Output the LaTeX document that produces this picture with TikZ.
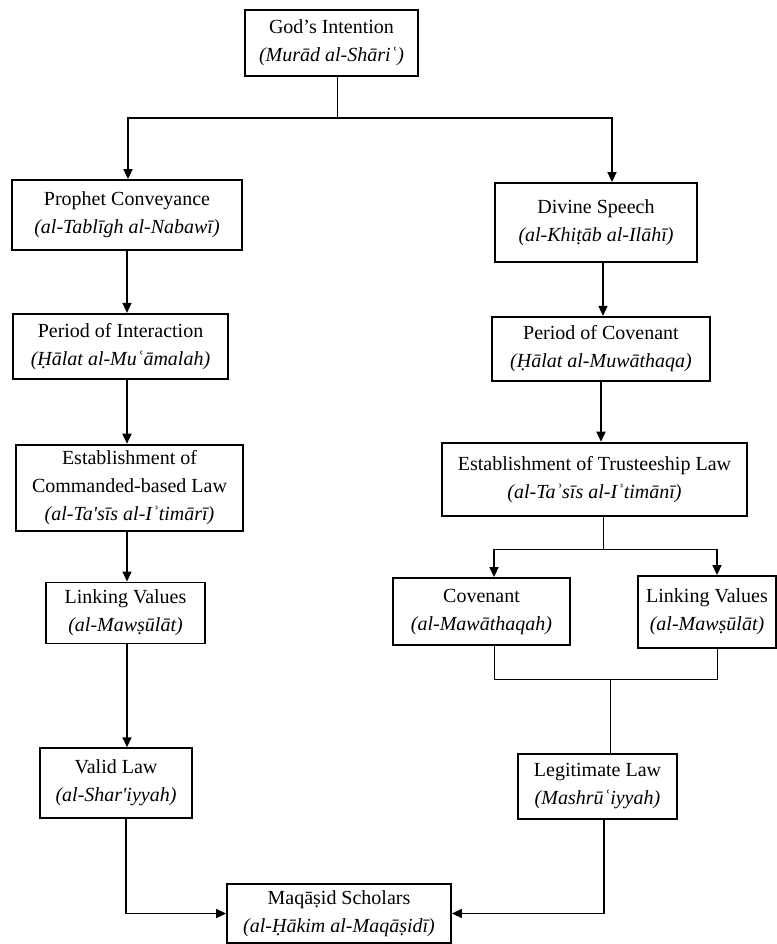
\documentclass[tikz,border=0pt]{standalone}
\usepackage{fontspec}
\setmainfont{Liberation Serif}[Ligatures=TeXOff]
\usetikzlibrary{arrows.meta, positioning}

\begin{document}
\begin{tikzpicture}[
  x=1pt, y=1pt,
  node distance=30pt and 20pt,
  every node/.style={font=\fontsize{10}{14}\selectfont},
  box/.style={
    draw, line width=0.9pt, align=center, inner sep=2pt
  },
  arrow/.style={-{Triangle[length=5pt, width=4.5pt]}, line width=0.8pt},
  link/.style={line width=0.8pt},
  thinlink/.style={line width=0.5pt}
]
  \useasboundingbox (0,0) rectangle (388.5,-472);

  % Top node
  \node[box, minimum width=86.5pt, minimum height=33pt] (god) at (165.75,-21.5)
    {God’s Intention\\ \textit{(Murād al-Shāriʿ)}};

  % Left column
  \node[box, minimum width=115pt, minimum height=35pt] (prophet) at (63.5,-107.5)
    {Prophet Conveyance\\ \textit{(al-Tablīgh al-Nabawī)}};
  \node[box, below=31pt of prophet, xshift=-3.25pt, minimum width=107.5pt, minimum height=32.5pt] (interact)
    {Period of Interaction\\ \textit{(Ḥālat al-Muʿāmalah)}};
  \node[box, below=32pt of interact, xshift=4.5pt, minimum width=113.5pt, minimum height=43pt] (commanded)
    {Establishment of\\ Commanded-based Law\\ \textit{(al-Ta's\={\i}s al-Iʾtimārī)}};
  \node[box, below=25pt of commanded, xshift=-2pt, minimum width=79.5pt, minimum height=30.5pt] (linkleft)
    {Linking Values\\ \textit{(al-Mawṣūlāt)}};
  \node[box, below=51.5pt of linkleft, xshift=-4.75pt, minimum width=76pt, minimum height=35pt] (valid)
    {Valid Law\\ \textit{(al-Shar'iyyah)}};

  % Right column
  \node[box, minimum width=101pt, minimum height=39.5pt] (divine) at (298,-111.25)
    {Divine Speech\\ \textit{(al-Khiṭāb al-Ilāhī)}};
  \node[box, below=26.5pt of divine, xshift=2.5pt, minimum width=109pt, minimum height=32pt] (covperiod)
    {Period of Covenant\\ \textit{(Ḥālat al-Muwāthaqa)}};
  \node[box, below=30pt of covperiod, xshift=-3.25pt, minimum width=152.5pt, minimum height=36.5pt] (trustee)
    {Establishment of Trusteeship Law\\ \textit{(al-Taʾs\={\i}s al-Iʾtimānī)}};
  \node[box, minimum width=88.5pt, minimum height=33.5pt] (covenant) at (240.75,-305.75)
    {Covenant\\ \textit{(al-Mawāthaqah)}};
  \node[box, minimum width=69pt, minimum height=36pt] (linkright) at (353.5,-306)
    {Linking Values\\ \textit{(al-Mawṣūlāt)}};
  \node[box, minimum width=79.5pt, minimum height=32.5pt] (legit) at (298.75,-393.25)
    {Legitimate Law\\ \textit{(Mashrūʿiyyah)}};

  % Bottom node
  \node[box, minimum width=112pt, minimum height=29.5pt] (scholars) at (169.5,-456.75)
    {Maqāṣid Scholars\\ \textit{(al-Ḥākim al-Maqāṣidī)}};

  % Split from the top
  \draw[link] ([xshift=3pt]god.south) -- ++(0,-20.5) coordinate (topsplit);
  \draw[arrow] (topsplit) -| ([xshift=0.5pt]prophet.north);
  \draw[arrow] (topsplit) -| ([xshift=8pt]divine.north);

  % Left chain
  \draw[arrow] (prophet.south) -- (prophet.south |- interact.north);
  \draw[arrow] (interact.south -| prophet.south) -- (prophet.south |- commanded.north);
  \draw[arrow] (commanded.south -| prophet.south) -- (prophet.south |- linkleft.north);
  \draw[arrow] (linkleft.south -| prophet.south) -- (prophet.south |- valid.north);
  \draw[arrow] ([xshift=5pt]valid.south) |- (scholars.west);

  % Right chain
  \draw[arrow] ([xshift=3.5pt]divine.south) -- ([xshift=3.5pt]divine.south |- covperiod.north);
  \draw[arrow] (covperiod.south) -- (covperiod.south |- trustee.north);
  \draw[thinlink] ([xshift=4.25pt]trustee.south) -- ++(0,-16.5) coordinate (rightsplit);
  \draw[arrow] (rightsplit) -| ([xshift=6.25pt]covenant.north);
  \draw[arrow] (rightsplit) -| ([xshift=5pt]linkright.north);

  % Joining into the legitimate law
  \draw[thinlink] ([xshift=6.25pt]covenant.south) -- ++(0,-17) coordinate (rightjoin) -| ([xshift=5pt]linkright.south);
  \draw[thinlink] ([xshift=6.25pt]legit.north) -- ([xshift=6.25pt]legit.north |- rightjoin);
  \draw[arrow] ([xshift=3.25pt]legit.south) |- (scholars.east);

\end{tikzpicture}
\end{document}
